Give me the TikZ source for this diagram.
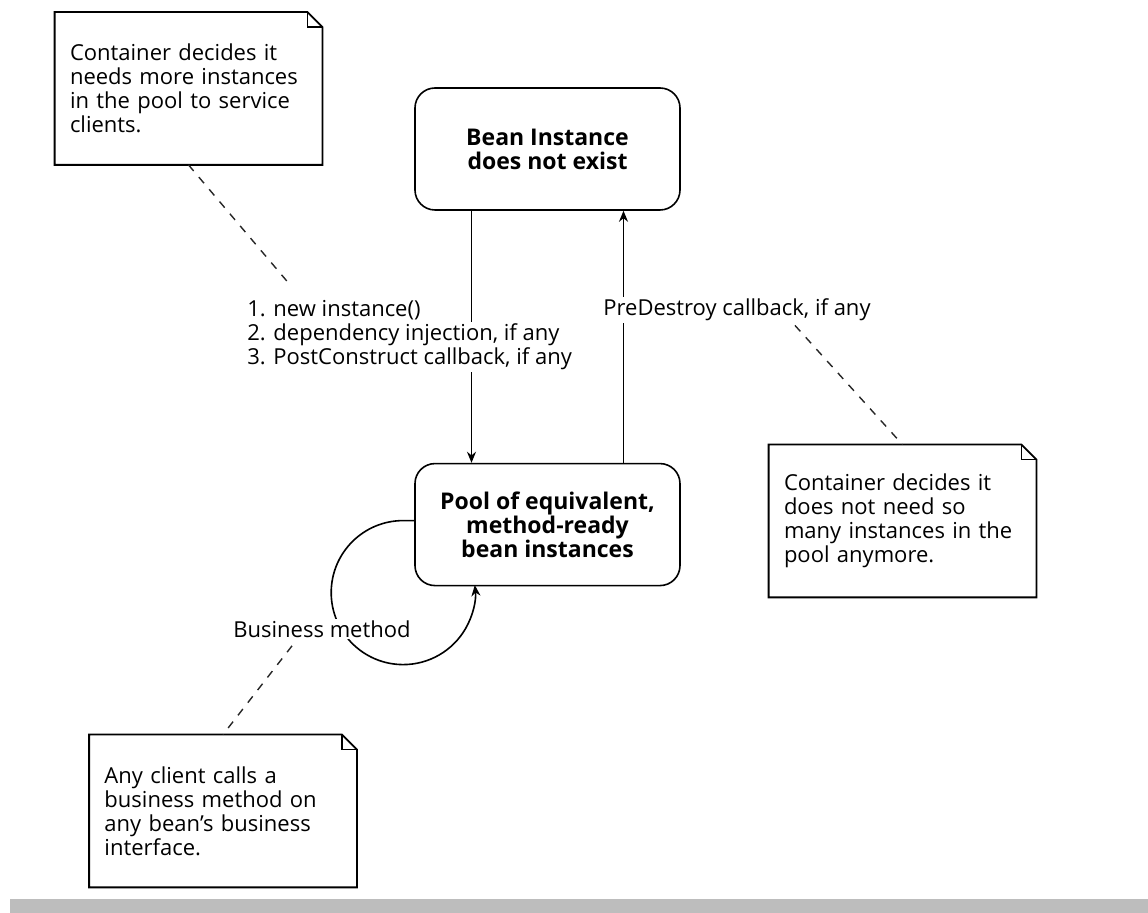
\documentclass[tikz,border=0pt]{standalone}
\usepackage{fontspec}
\setmainfont{Open Sans}
\usepackage{tikz}
\usetikzlibrary{arrows.meta,positioning,calc}
\definecolor{barcolor}{gray}{0.74}
\newcommand{\notefont}{\fontsize{11}{12}\selectfont}
% outline of a note with a folded corner
\newcommand{\memoframe}[1]{%
  \draw[memoline] (#1.south west) -- (#1.north west) -- ([xshift=-7.5pt]#1.north east)
    -- ([yshift=-7.5pt]#1.north east) -- (#1.south east) -- cycle;
  \draw[memoline] ([xshift=-7.5pt]#1.north east) |- ([yshift=-7.5pt]#1.north east);}

\begin{document}
\begin{tikzpicture}[
    x=0.5pt, y=-0.5pt,
    state/.style={rectangle, draw, line width=0.8pt, rounded corners=10pt, minimum width=132.5pt, minimum height=61pt, align=center, font=\fontsize{11.5}{12}\selectfont\bfseries},
    memo/.style={rectangle, minimum width=133.5pt, minimum height=76pt, inner xsep=7.5pt, text width=118.5pt, align=left, font=\notefont},
    memoline/.style={line width=0.9pt},
    lbl/.style={fill=white, inner sep=1pt, anchor=west, font=\notefont},
    arrow/.style={-{Stealth[length=5.5pt,width=4.5pt]}, line width=0.8pt},
    memolink/.style={line width=0.7pt, dash pattern=on 4pt off 4pt, black!85}
]
    \useasboundingbox (0,0) rectangle (1148,913);

    % states
    \node[state] (bean) at (547.5,149) {Bean Instance\\does not exist};
    \node[state, below=126pt of bean] (pool) {Pool of equivalent,\\method-ready\\bean instances};

    % notes
    \node[memo] (memoA) at (188.5,88.5) {Container decides it\\needs more instances\\in the pool to service\\clients.};
    \node[memo] (memoB) at (902.5,521) {Container decides it\\does not need so\\many instances in the\\pool anymore.};
    \node[memo] (memoC) at (223,811) {Any client calls a\\business method on\\any bean's business\\interface.};
    \memoframe{memoA}
    \memoframe{memoB}
    \memoframe{memoC}

    % transitions
    \draw[arrow] ([xshift=-38pt]bean.south) -- ([xshift=-38pt]pool.north);
    \draw[arrow] ([xshift=38pt]pool.north) -- ([xshift=38pt]bean.south);
    \draw[arrow] ([shift={(0,-4)}]pool.west) -- ++(-11,0)
        arc[start angle=90, end angle=366, radius=36pt];

    % labels
    \node[lbl] (step1) at (245,310) {1. new instance()};
    \node[lbl] (step2) at (245,335) {2. dependency injection, if any};
    \node[lbl] (step3) at (245,359) {3. PostConstruct callback, if any};
    \node[lbl] (pre) at (601,310) {PreDestroy callback, if any};
    \node[lbl] (biz) at (231,629) {Business method};

    % note links
    \draw[memolink] (memoA.south) -- ([shift={(45,-13)}]step1.north west);
    \draw[memolink] ([shift={(194,2)}]pre.south west) -- (memoB.north);
    \draw[memolink] ([shift={(61,6)}]biz.south west) -- (memoC.north);

    \fill[barcolor] (10,899) rectangle (1148,913);
\end{tikzpicture}
\end{document}
